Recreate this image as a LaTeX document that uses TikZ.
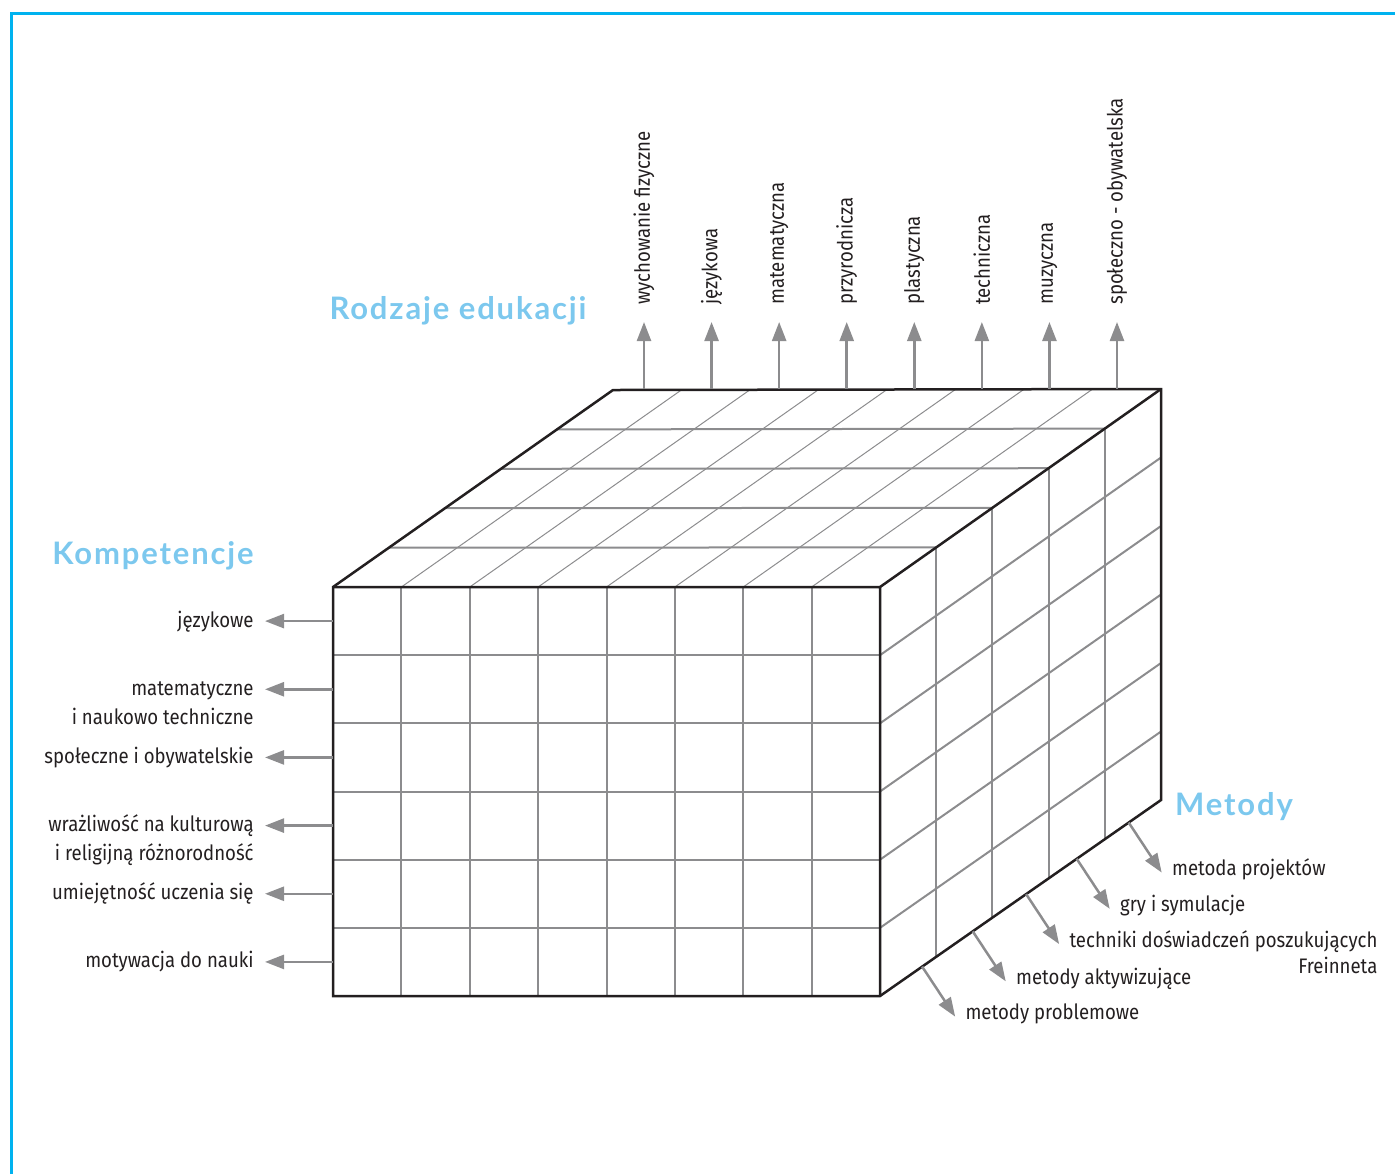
\documentclass[tikz,border=0pt]{standalone}
\usepackage{fontspec}
\setmainfont{Fira Sans}[FakeStretch=0.885]
\newfontfamily\headfont{Lato}[LetterSpace=6]
\usetikzlibrary{arrows.meta,calc,positioning}
\definecolor{framecyan}{HTML}{00B2EF}
\definecolor{headblue}{HTML}{7CC8EE}
\definecolor{gridgray}{HTML}{8C8C8E}
\definecolor{ink}{HTML}{231F20}
\newcommand\rtwo[2]{\vtop{\halign{\hfil##\cr#1\cr#2\cr}}}
\tikzset{
  outline/.style={draw=ink, line width=1.25pt, line join=miter},
  gridline/.style={draw=gridgray, line width=1pt},
  thingrid/.style={draw=gridgray, line width=0.5pt},
  arr/.style={draw=gridgray, line width=1.25pt, -{Triangle[length=9.5pt,width=7pt]}},
  lab/.style={inner sep=0pt, text=ink, font=\fontsize{10.5}{14.5}\selectfont},
  mlab/.style={lab, font=\fontsize{10.5}{13}\selectfont},
  heading/.style={inner sep=0pt, text=headblue, font=\headfont\bfseries\fontsize{15.5}{18}\selectfont},
}
\begin{document}
\begin{tikzpicture}[x=0.5pt, y=-0.5pt]
  \useasboundingbox (0,0) rectangle (1395,1174);
  \draw[draw=framecyan, line width=1.5pt] (1395,13) -- (11,13) -- (11,1174);

  \coordinate (ftl) at (333,587);
  \coordinate (ftr) at (880,587);
  \coordinate (fbl) at (333,996);
  \coordinate (fbr) at (880,996);
  \coordinate (btl) at (613,390);
  \coordinate (btr) at (1161,389);
  \coordinate (bbr) at (1161,800);

  % front face
  \foreach \k in {1,...,7}
    \draw[gridline] ($(ftl)!\k/8!(ftr)$) -- ($(fbl)!\k/8!(fbr)$);
  \foreach \k in {1,...,5}
    \draw[gridline] ($(ftl)!\k/6!(fbl)$) -- ($(ftr)!\k/6!(fbr)$);
  % top face
  \foreach \k in {1,...,7}
    \draw[thingrid] ($(ftl)!\k/8!(ftr)$) -- ($(btl)!\k/8!(btr)$);
  \foreach \j in {1,...,4}
    \draw[gridline] ($(ftl)!\j/5!(btl)$) -- ($(ftr)!\j/5!(btr)$);
  % right face
  \foreach \j in {1,...,4}
    \draw[gridline] ($(ftr)!\j/5!(btr)$) -- ($(fbr)!\j/5!(bbr)$);
  \foreach \k in {1,...,5}
    \draw[gridline] ($(ftr)!\k/6!(fbr)$) -- ($(btr)!\k/6!(bbr)$);

  \draw[outline] (fbl) -- (ftl) -- (btl) -- (btr) -- (bbr) -- (fbr) -- cycle;
  \draw[outline] (ftl) -- (ftr) -- (fbr) (ftr) -- (btr);

  \node[heading] (rodzaje) at (458,311) {Rodzaje edukacji};
  \node[heading] (kompet) at (153,556) {Kompetencje};
  \node[heading] (metody) at (1234,807) {Metody};

  \foreach \i/\txt in {1/wychowanie fizyczne, 2/językowa, 3/matematyczna, 4/przyrodnicza,
      5/plastyczna, 6/techniczna, 7/muzyczna, 8/społeczno - obywatelska} {
    \coordinate (r\i) at ({644+67.57*(\i-1)},389);
    \node[lab, rotate=90, anchor=west] (rl\i) at ({644+67.57*(\i-1)},305) {\txt};
    \draw[arr, shorten >=8.5pt] (r\i) -- (rl\i.west);
  }

  \foreach \i/\txt in {1/językowe, 2/{\rtwo{matematyczne}{i naukowo techniczne}},
      3/społeczne i obywatelskie, 4/{\rtwo{wrażliwość na kulturową}{i religijną różnorodność}},
      5/umiejętność uczenia się, 6/motywacja do nauki} {
    \coordinate (k\i) at ($(ftl)!{(\i-0.5)/6}!(fbl)$);
    \node[lab, anchor=base east] (kl\i) at ($(k\i)+(-79,6)$) {\txt};
    \draw[arr, shorten >=5.5pt] (k\i) -- (k\i -| kl\i.east);
  }

  \foreach \i/\t/\txt in {1/0.15/metody problemowe, 2/0.33/metody aktywizujące,
      3/0.52/{\rtwo{techniki doświadczeń poszukujących}{Freinneta}},
      4/0.70/gry i symulacje, 5/0.885/metoda projektów} {
    \coordinate (m\i) at ($(fbr)!\t!(bbr)$);
    \coordinate (mt\i) at ($(m\i)+(33,50)$);
    \node[mlab, anchor=base west] (ml\i) at ($(mt\i)+(10,3)$) {\txt};
    \draw[arr] (m\i) -- (mt\i);
  }
\end{tikzpicture}
\end{document}
